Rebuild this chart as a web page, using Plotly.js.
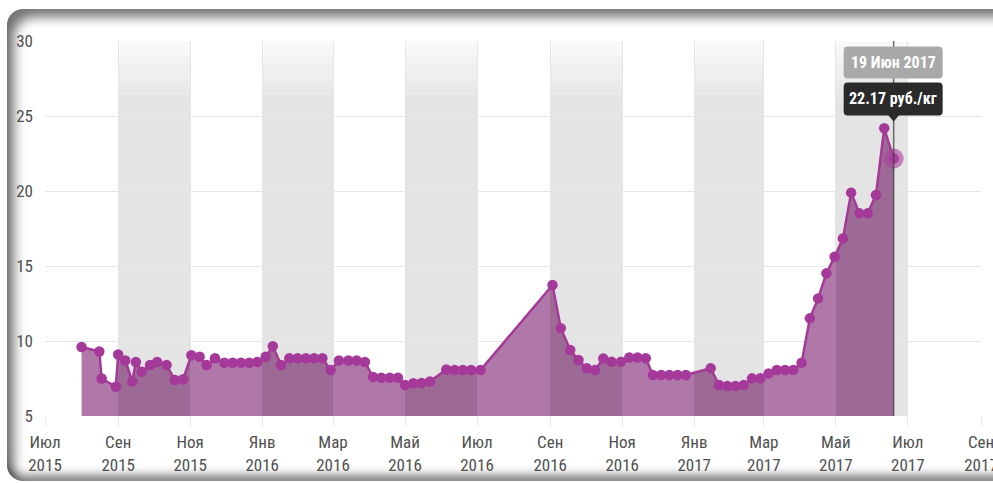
<!DOCTYPE html>
<html><head><meta charset="utf-8">
<script src="https://cdn.plot.ly/plotly-3.0.1.min.js"></script>
<style>
html,body{margin:0;padding:0;background:#fff;width:993px;height:483px;overflow:hidden;}
#frame{position:absolute;left:7px;top:9px;width:1010px;height:472px;border-radius:16px;
 box-shadow: inset 11px 12px 12px -4px rgba(0,0,0,0.55), inset 0 -10px 10px -4px rgba(0,0,0,0.5);}
#chart{position:absolute;left:0;top:0;width:993px;height:483px;}
</style></head><body>
<div id="frame"></div><div id="chart"></div>
<script>
const dates = [
 '2015-08-01','2015-08-16','2015-08-18','2015-08-30','2015-09-01','2015-09-07','2015-09-13','2015-09-16',
 '2015-09-21','2015-09-28','2015-10-04','2015-10-12','2015-10-19','2015-10-26','2015-11-02','2015-11-09',
 '2015-11-15','2015-11-22','2015-11-30','2015-12-07','2015-12-14','2015-12-21','2015-12-28','2016-01-04',
 '2016-01-10','2016-01-17','2016-01-24','2016-01-31','2016-02-07','2016-02-14','2016-02-21','2016-02-28',
 '2016-03-06','2016-03-14','2016-03-21','2016-03-28','2016-04-04','2016-04-11','2016-04-18','2016-04-25',
 '2016-05-01','2016-05-08','2016-05-15','2016-05-22','2016-06-05','2016-06-12','2016-06-19','2016-06-26',
 '2016-07-04','2016-09-03','2016-09-10','2016-09-18','2016-09-25','2016-10-02','2016-10-09','2016-10-16',
 '2016-10-23','2016-10-31','2016-11-07','2016-11-14','2016-11-21','2016-11-27','2016-12-04','2016-12-11',
 '2016-12-18','2016-12-25','2017-01-15','2017-01-22','2017-01-29','2017-02-05','2017-02-12','2017-02-19',
 '2017-02-26','2017-03-05','2017-03-12','2017-03-19','2017-03-26','2017-04-02','2017-04-09','2017-04-16',
 '2017-04-23','2017-04-30','2017-05-07','2017-05-14','2017-05-21','2017-05-28','2017-06-04','2017-06-11',
 '2017-06-19'
];
const prices = [
 9.6, 9.3, 7.5, 6.95, 9.1, 8.7, 7.3, 8.6,
 7.95, 8.4, 8.6, 8.4, 7.4, 7.45, 9.05, 8.95,
 8.4, 8.85, 8.55, 8.55, 8.55, 8.55, 8.6, 8.95,
 9.65, 8.4, 8.85, 8.85, 8.85, 8.85, 8.85, 8.07,
 8.7, 8.7, 8.7, 8.6, 7.6, 7.55, 7.55, 7.55,
 7.07, 7.18, 7.2, 7.3, 8.1, 8.07, 8.07, 8.07,
 8.07, 13.73, 10.85, 9.4, 8.73, 8.18, 8.07, 8.84,
 8.62, 8.62, 8.9, 8.9, 8.85, 7.73, 7.73, 7.73,
 7.73, 7.73, 8.18, 7.07, 7.0, 7.0, 7.07, 7.51,
 7.51, 7.84, 8.07, 8.07, 8.07, 8.55, 11.51, 12.84,
 14.51, 15.62, 16.84, 19.89, 18.51, 18.51, 19.73, 24.18,
 22.17
];
const tickDates = ['2015-07-01','2015-09-01','2015-11-01','2016-01-01','2016-03-01','2016-05-01','2016-07-01',
 '2016-09-01','2016-11-01','2017-01-01','2017-03-01','2017-05-01','2017-07-01','2017-09-01'];
const tickText = ['Июл<br>2015','Сен<br>2015','Ноя<br>2015','Янв<br>2016','Мар<br>2016','Май<br>2016','Июл<br>2016',
 'Сен<br>2016','Ноя<br>2016','Янв<br>2017','Мар<br>2017','Май<br>2017','Июл<br>2017','Сен<br>2017'];
const yTicks = [5, 10, 15, 20, 25, 30];
const bandStarts = ['2015-09-01','2016-01-01','2016-05-01','2016-09-01','2017-01-01','2017-05-01'];
const bandEnds   = ['2015-11-01','2016-03-01','2016-07-01','2016-11-01','2017-03-01','2017-07-01'];
const monthsShort = ['Янв','Фев','Мар','Апр','Май','Июн','Июл','Авг','Сен','Окт','Ноя','Дек'];
const unit = 'руб./кг';

const FONT = "'Liberation Sans Narrow','Arial Narrow','Roboto Condensed','DejaVu Sans Condensed',sans-serif";
const LINE = '#a5399a';
const FILL_L = '#b078a8';
const FILL_D = '#9c6a94';
const BAND = '#e4e4e4';
const GRID = '#e1e7e4';

const n = dates.length;
const lastDate = dates[n-1], lastVal = prices[n-1];
const t0 = Date.parse(dates[0]), t1 = Date.parse(lastDate);
const clamp = v => Math.max(0, Math.min(1, v));
const cs = [[0, FILL_L]];
bandStarts.forEach((s, i) => {
  const fs = clamp((Date.parse(s) - t0) / (t1 - t0));
  const fe = clamp((Date.parse(bandEnds[i]) - t0) / (t1 - t0));
  if (fe <= 0 || fs >= 1) return;
  cs.push([fs, FILL_L], [fs, FILL_D], [fe, FILL_D]);
  if (fe < 1) cs.push([fe, FILL_L]);
});
if (cs[cs.length-1][0] < 1) cs.push([1, cs[cs.length-1][1]]);

const traces = [{
  x: dates, y: prices, type: 'scatter', mode: 'lines+markers',
  fill: 'tozeroy',
  fillgradient: {type: 'horizontal', colorscale: cs},
  line: {color: LINE, width: 2.5},
  marker: {color: LINE, size: 10.5},
  hoverinfo: 'skip'
}, {
  x: [lastDate], y: [lastVal], type: 'scatter', mode: 'markers',
  marker: {color: 'rgba(172,64,160,0.6)', size: 20},
  hoverinfo: 'skip'
}];

const shapes = [];
function mix(a, b, t) {
  const pa = [1,3,5].map(i => parseInt(a.substr(i,2),16));
  const pb = [1,3,5].map(i => parseInt(b.substr(i,2),16));
  return 'rgb(' + pa.map((v,i) => Math.round(v + (pb[i]-v)*t)).join(',') + ')';
}
bandStarts.forEach((s, i) => {
  shapes.push({type:'rect', layer:'below', xref:'x', yref:'y', x0:s, x1:bandEnds[i], y0:5, y1:26,
    fillcolor: BAND, line:{width:0}});
  const steps = 8;
  for (let k = 0; k < steps; k++) {
    shapes.push({type:'rect', layer:'below', xref:'x', yref:'y', x0:s, x1:bandEnds[i],
      y0: 26 + 4*k/steps, y1: 26 + 4*(k+1)/steps,
      fillcolor: mix(BAND, '#fafafa', (k+0.5)/steps), line:{width:0}});
  }
});
// crosshair
shapes.push({type:'line', layer:'above', xref:'x', yref:'paper', x0:lastDate, x1:lastDate, y0:0, y1:1,
  line:{color:'rgba(60,60,60,0.75)', width:1.5}});
function rrect(x0, x1, y0, y1, r) {
  return `M ${x0+r},${y0} L ${x1-r},${y0} Q ${x1},${y0} ${x1},${y0+r} L ${x1},${y1-r} Q ${x1},${y1} ${x1-r},${y1} ` +
         `L ${x0+r},${y1} Q ${x0},${y1} ${x0},${y1-r} L ${x0},${y0+r} Q ${x0},${y0} ${x0+r},${y0} Z`;
}
const pix = {xref:'x', yref:'y', xsizemode:'pixel', ysizemode:'pixel', xanchor:lastDate, yanchor:lastVal, layer:'above'};
shapes.push(Object.assign({type:'path', path: rrect(-50, 49, 80, 112, 4), fillcolor:'#a9a9a9', line:{width:0}}, pix));
shapes.push(Object.assign({type:'path', path: rrect(-50, 49, 43, 76, 4), fillcolor:'#2a2a2a', line:{width:0}}, pix));
shapes.push(Object.assign({type:'path', path: 'M -6,44 L 0,37 L 6,44 Z', fillcolor:'#2a2a2a', line:{width:0}}, pix));

const ld = new Date(t1);
const dateLabel = ld.getUTCDate() + ' ' + monthsShort[ld.getUTCMonth()] + ' ' + ld.getUTCFullYear();
const annotations = [
  {x:lastDate, y:lastVal, xref:'x', yref:'y', showarrow:false, xanchor:'center', yanchor:'middle',
   xshift:-0.5, yshift:96, text:'<b>' + dateLabel + '</b>', font:{family:FONT, size:16, color:'#fff'}},
  {x:lastDate, y:lastVal, xref:'x', yref:'y', showarrow:false, xanchor:'center', yanchor:'middle',
   xshift:-0.5, yshift:59.5, text:'<b>' + lastVal.toFixed(2) + ' ' + unit + '</b>', font:{family:FONT, size:16, color:'#fff'}}
];

const layout = {
  width: 993, height: 483,
  margin: {l:45, r:12, t:41, b:67},
  paper_bgcolor: 'rgba(0,0,0,0)', plot_bgcolor: '#fff',
  showlegend: false,
  xaxis: {type:'date', range:[tickDates[0], tickDates[tickDates.length-1]], tickmode:'array',
    tickvals: tickDates, ticktext: tickText, showgrid:true, gridcolor:GRID, gridwidth:1,
    ticks:'outside', ticklen:9, tickcolor:GRID, zeroline:false, showline:false,
    ticklabeloverflow:'allow', ticklabelstandoff:2,
    tickfont:{family:FONT, size:17, color:'#505050'}, fixedrange:true},
  yaxis: {range:[5,30], tickmode:'array', tickvals:yTicks, showgrid:true, gridcolor:GRID, gridwidth:1,
    ticks:'', ticklabelstandoff:11, zeroline:false, showline:false,
    tickfont:{family:FONT, size:17, color:'#505050'}, fixedrange:true},
  shapes: shapes, annotations: annotations
};
Plotly.newPlot('chart', traces, layout, {staticPlot:true, displayModeBar:false});
</script></body></html>
